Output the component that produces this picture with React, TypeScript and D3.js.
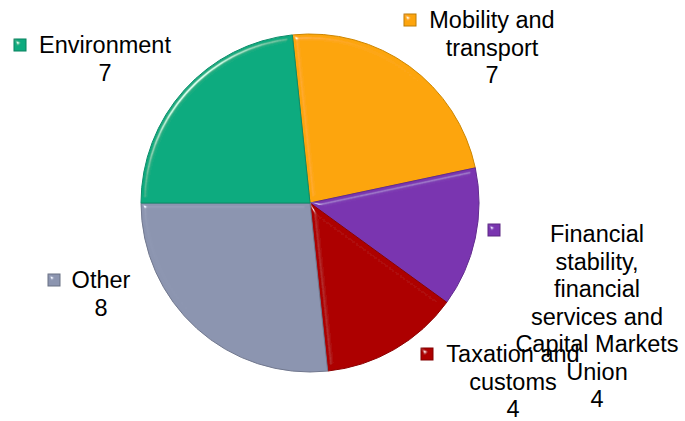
import { useEffect, useRef } from 'react';
import * as d3 from 'd3';

// chart data
const categories = [
  'Mobility and transport',
  'Financial stability, financial services and Capital Markets Union',
  'Taxation and customs',
  'Other',
  'Environment',
];
const values = [7, 4, 4, 8, 7];
const colors = ['#FDA508', '#7A36B0', '#AD0404', '#8C95B0', '#0AAB7F'];

// label lines per slice (as shown in the chart)
const labelLines = [
  ['Mobility and', 'transport', '7'],
  ['Financial', 'stability,', 'financial', 'services and', 'Capital Markets', 'Union', '4'],
  ['Taxation and', 'customs', '4'],
  ['Other', '8'],
  ['Environment', '7'],
];

export default function App() {
  const svgRef = useRef<SVGSVGElement>(null);

  useEffect(() => {
    if (!svgRef.current) return;
    const svg = d3.select(svgRef.current);
    svg.selectAll('*').remove();

    const width = 685;
    const height = 421;
    const cx = 310;
    const cy = 203;
    const radius = 169;

    svg.append('rect').attr('width', width).attr('height', height).attr('fill', 'white');

    // bevel-ish filter
    const defs = svg.append('defs');
    const f = defs.append('filter').attr('id', 'bevel')
      .attr('x', '-10%').attr('y', '-10%').attr('width', '120%').attr('height', '120%');
    f.append('feGaussianBlur').attr('in', 'SourceAlpha').attr('stdDeviation', 2.5).attr('result', 'blur');
    f.append('feSpecularLighting')
      .attr('in', 'blur').attr('surfaceScale', 4).attr('specularConstant', 0.7)
      .attr('specularExponent', 60).attr('lighting-color', '#ffffff').attr('result', 'spec')
      .append('feDistantLight').attr('azimuth', 225).attr('elevation', 40);
    f.append('feComposite').attr('in', 'spec').attr('in2', 'SourceAlpha').attr('operator', 'in').attr('result', 'specOut');
    f.append('feComposite').attr('in', 'SourceGraphic').attr('in2', 'specOut')
      .attr('operator', 'arithmetic').attr('k1', 0).attr('k2', 1).attr('k3', 1).attr('k4', 0);

    const start = (-6 * Math.PI) / 180;
    const pie = d3.pie<number>().sort(null).value(d => d)
      .startAngle(start).endAngle(start + 2 * Math.PI);
    const arc = d3.arc<d3.PieArcDatum<number>>().innerRadius(0).outerRadius(radius);

    const g = svg.append('g').attr('transform', `translate(${cx},${cy})`);
    g.selectAll('path.slice')
      .data(pie(values))
      .enter().append('path')
      .attr('class', 'slice')
      .attr('d', arc)
      .attr('fill', (_d, i) => colors[i])
      .attr('stroke', (_d, i) => d3.color(colors[i])!.darker(0.6).formatHex())
      .attr('stroke-width', 1)
      .attr('filter', 'url(#bevel)');

    // labels: [center x, first baseline, marker x, marker y]
    const labelPos = [
      [492, 28, 404, 14],
      [597, 242, 488, 224],
      [513, 362, 421, 348],
      [101, 288, 48, 274],
      [105, 53, 14, 39],
    ];
    const lineH = 27.5;

    labelLines.forEach((lines, i) => {
      const [tx, ty, mx, my] = labelPos[i];
      svg.append('rect')
        .attr('x', mx).attr('y', my).attr('width', 12).attr('height', 12)
        .attr('fill', colors[i])
        .attr('stroke', d3.color(colors[i])!.darker(0.8).formatHex())
        .attr('stroke-width', 1)
        .attr('filter', 'url(#bevel)');
      const t = svg.append('text')
        .attr('text-anchor', 'middle')
        .style('font-family', '"Liberation Sans", Arial, sans-serif')
        .style('font-size', '23.5px')
        .attr('fill', '#000');
      lines.forEach((line, j) => {
        t.append('tspan').attr('x', tx).attr('y', ty + j * lineH).text(line);
      });
    });
  }, []);

  return (
    <svg
      ref={svgRef}
      width={685}
      height={421}
      style={{ position: 'absolute', left: 0, top: 0 }}
    />
  );
}
